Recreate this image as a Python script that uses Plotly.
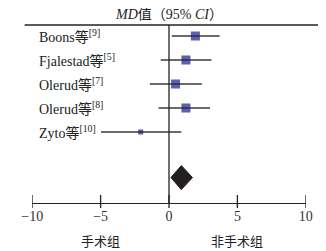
import plotly.graph_objects as go

studies = ["Boons等", "Fjalestad等", "Olerud等", "Olerud等", "Zyto等"]
refs = ["[9]", "[5]", "[7]", "[8]", "[10]"]
md = [1.93, 1.24, 0.48, 1.24, -2.07]
ci_lo = [0.2, -0.6, -1.4, -0.76, -4.97]
ci_hi = [3.7, 3.1, 2.4, 3.0, 0.9]
weight_size = [9, 9, 9, 9, 5]
pooled_md = 0.9
pooled_lo = 0.14
pooled_hi = 1.72
tick_vals = [-10, -5, 0, 5, 10]
tick_text = ["\u221210", "\u22125", "0", "5", "10"]
group_left = "手术组"
group_right = "非手术组"

OFF = 8  # browser default body margin
W, H = 326 - OFF, 251 - OFF
row_y = list(range(len(studies)))
pooled_row = 5.9
y_top = -(36 - OFF) / 24
y_bot = (H - (36 - OFF)) / 24

def xp(px):
    return (px - OFF) / W

def yp(py):
    return 1 - (py - OFF) / H

serif = "Liberation Serif, Times New Roman, serif"
cjk = "Noto Sans CJK SC"

fig = go.Figure()

fig.add_trace(go.Scatter(
    x=md, y=row_y, mode="markers",
    marker=dict(symbol="square", size=weight_size, color="#1a1e80", line=dict(width=0)),
    error_x=dict(type="data", symmetric=False,
                 array=[h - m for h, m in zip(ci_hi, md)],
                 arrayminus=[m - l for m, l in zip(md, ci_lo)],
                 width=0, thickness=1.3, color="#3a3a3a"),
    showlegend=False, hoverinfo="skip"))

dh = 0.5
fig.add_trace(go.Scatter(
    x=[pooled_lo, pooled_md, pooled_hi, pooled_md, pooled_lo],
    y=[pooled_row, pooled_row - dh, pooled_row, pooled_row + dh, pooled_row],
    mode="lines", fill="toself", fillcolor="#231f20",
    line=dict(color="#231f20", width=1), showlegend=False, hoverinfo="skip"))

shapes = []
shapes.append(dict(type="line", xref="paper", yref="paper", x0=xp(14), x1=1,
                   y0=yp(25), y1=yp(25), line=dict(color="#222", width=1.3)))
shapes.append(dict(type="line", xref="x", yref="paper", x0=0, x1=0,
                   y0=yp(25), y1=yp(203), line=dict(color="#222", width=1.3)))
for v in tick_vals:
    shapes.append(dict(type="line", xref="x", yref="paper", x0=v, x1=v,
                       y0=yp(195), y1=yp(208), line=dict(color="#222", width=1.3)))

annotations = []
for s, r, y in zip(studies, refs, row_y):
    annotations.append(dict(
        x=xp(27), xref="paper", y=y, yref="y", xanchor="left", yanchor="middle",
        text=f"{s}<sup>{r}</sup>",
        showarrow=False, font=dict(family=f"{serif}, {cjk}", size=14, color="#222")))

annotations.append(dict(
    x=xp(167), xref="paper", y=yp(15), yref="paper", xanchor="center", yanchor="middle",
    text="<i>MD</i>值（95% <i>CI</i>）", showarrow=False,
    font=dict(family=f"{serif}, {cjk}", size=14, color="#222")))

annotations.append(dict(x=-5, xref="x", y=yp(240), yref="paper", xanchor="center",
                        yanchor="middle", text=group_left, showarrow=False,
                        font=dict(family=cjk, size=13, color="#222")))
annotations.append(dict(x=5, xref="x", y=yp(240), yref="paper", xanchor="center",
                        yanchor="middle", text=group_right, showarrow=False,
                        font=dict(family=cjk, size=13, color="#222")))

fig.update_layout(
    width=W, height=H, margin=dict(l=0, r=0, t=0, b=0),
    paper_bgcolor="white", plot_bgcolor="white",
    xaxis=dict(domain=[xp(22), xp(312)], range=[-10, 10], anchor="free",
               position=yp(203), showline=True, linecolor="#222", linewidth=1.3,
               ticks="", tickvals=tick_vals, ticktext=tick_text, showgrid=False,
               zeroline=False, tickfont=dict(family=serif, size=14, color="#333")),
    yaxis=dict(range=[y_bot, y_top], visible=False, showgrid=False, zeroline=False),
    shapes=shapes, annotations=annotations,
)

fig.write_html("out.html")
